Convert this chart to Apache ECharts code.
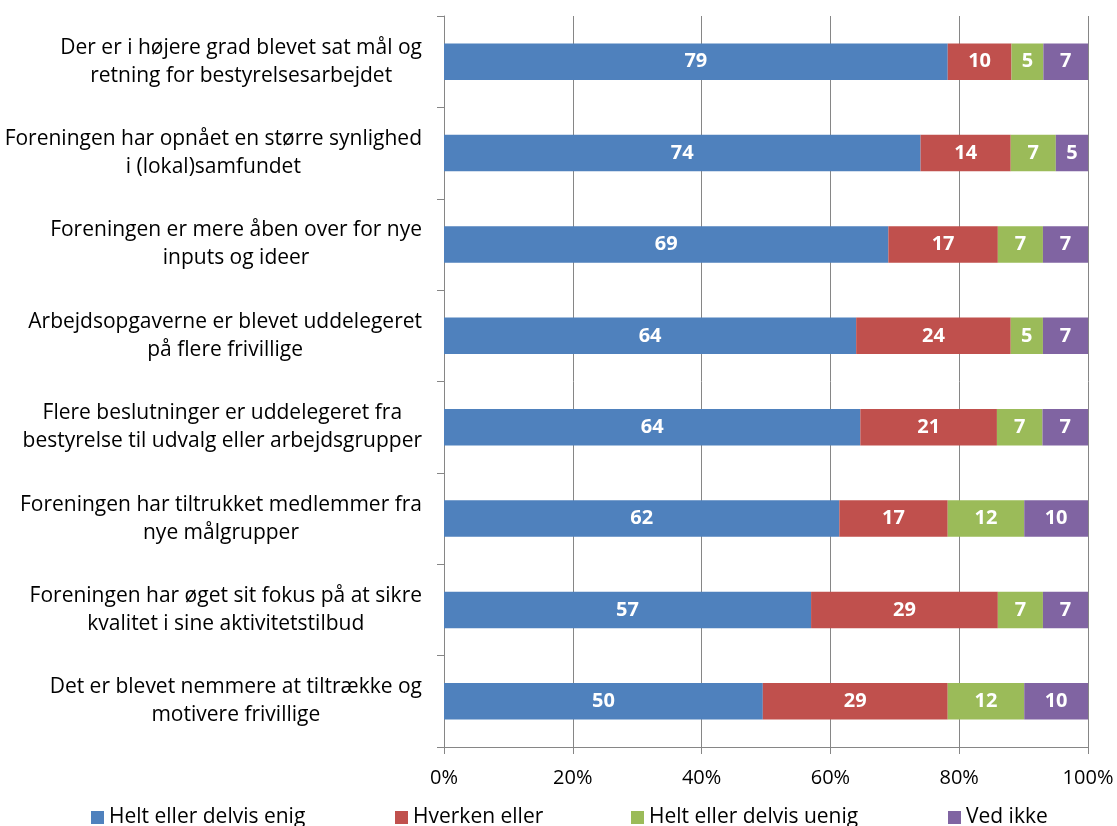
<!DOCTYPE html>
<html>
<head>
<meta charset="utf-8">
<style>
  html, body { margin: 0; padding: 0; background: #fff; }
  #chart { width: 1117px; height: 826px; }
</style>
<script src="https://cdn.jsdelivr.net/npm/echarts@6/dist/echarts.min.js"></script>
</head>
<body>
<div id="chart"></div>
<script>
// Statements, top to bottom
const categories = [
  'Der er i højere grad blevet sat mål og\nretning for bestyrelsesarbejdet',
  'Foreningen har opnået en større synlighed\ni (lokal)samfundet',
  'Foreningen er mere åben over for nye\ninputs og ideer',
  'Arbejdsopgaverne er blevet uddelegeret\npå flere frivillige',
  'Flere beslutninger er uddelegeret fra\nbestyrelse til udvalg eller arbejdsgrupper',
  'Foreningen har tiltrukket medlemmer fra\nnye målgrupper',
  'Foreningen har øget sit fokus på at sikre\nkvalitet i sine aktivitetstilbud',
  'Det er blevet nemmere at tiltrække og\nmotivere frivillige'
];

const seriesNames = ['Helt eller delvis enig', 'Hverken eller', 'Helt eller delvis uenig', 'Ved ikke'];

// Answer shares (percent, as labelled)
const enig    = [79, 74, 69, 64, 64, 62, 57, 50];
const hverken = [10, 14, 17, 24, 21, 17, 29, 29];
const uenig   = [5, 7, 7, 5, 7, 12, 7, 12];
const vedIkke = [7, 5, 7, 7, 7, 10, 7, 10];

const xTicks = [0, 20, 40, 60, 80, 100];

const colors = ['#4F81BD', '#C0504D', '#9BBB59', '#8064A2'];
const FONT = '"Open Sans", Lato, sans-serif';

const raw = [enig, hverken, uenig, vedIkke];
// 100% stacking: each row is scaled to its own total
const totals = categories.map((_, i) => raw.reduce((s, arr) => s + arr[i], 0));

const series = raw.map((arr, si) => ({
  name: seriesNames[si],
  type: 'bar',
  stack: 'total',
  barWidth: '40%',
  itemStyle: { color: colors[si] },
  label: {
    show: true,
    position: 'inside',
    color: '#fff',
    fontWeight: 'bold',
    fontSize: 20,
    fontFamily: FONT,
    formatter: p => String(arr[p.dataIndex])
  },
  data: arr.map((v, i) => v / totals[i] * 100)
}));

const legendLefts = [91, 395, 631, 948];
const legends = seriesNames.map((n, i) => ({
  data: [n],
  left: legendLefts[i],
  top: 807,
  padding: 0,
  itemWidth: 13,
  itemHeight: 13,
  icon: 'rect',
  selectedMode: false,
  textStyle: { fontSize: 21, color: '#000', fontFamily: FONT }
}));

const chart = echarts.init(document.getElementById('chart'), null, { renderer: 'canvas' });
chart.setOption({
  animation: false,
  backgroundColor: '#fff',
  color: colors,
  legend: legends,
  grid: { left: 444, right: 29, top: 16, bottom: 79, containLabel: false },
  xAxis: {
    type: 'value',
    min: xTicks[0],
    max: xTicks[xTicks.length - 1],
    interval: xTicks[1] - xTicks[0],
    axisLine: { show: true, lineStyle: { color: '#868686', width: 1 } },
    axisTick: { show: true, length: 7, lineStyle: { color: '#868686' } },
    splitLine: { show: true, lineStyle: { color: '#868686', width: 1 } },
    axisLabel: {
      margin: 21,
      fontSize: 20,
      color: '#000',
      fontFamily: FONT,
      formatter: '{value}%'
    }
  },
  yAxis: {
    type: 'category',
    inverse: true,
    data: categories,
    axisLine: { show: true, lineStyle: { color: '#868686', width: 1 } },
    axisTick: { show: true, length: 7, lineStyle: { color: '#868686' } },
    axisLabel: {
      margin: 22,
      color: '#000',
      formatter: v => v.split('\n').map(l => '{c|' + l + '}').join('\n'),
      rich: {
        c: { align: 'center', fontSize: 21, lineHeight: 28, color: '#000', fontFamily: FONT }
      }
    }
  },
  series: series
});
</script>
</body>
</html>
